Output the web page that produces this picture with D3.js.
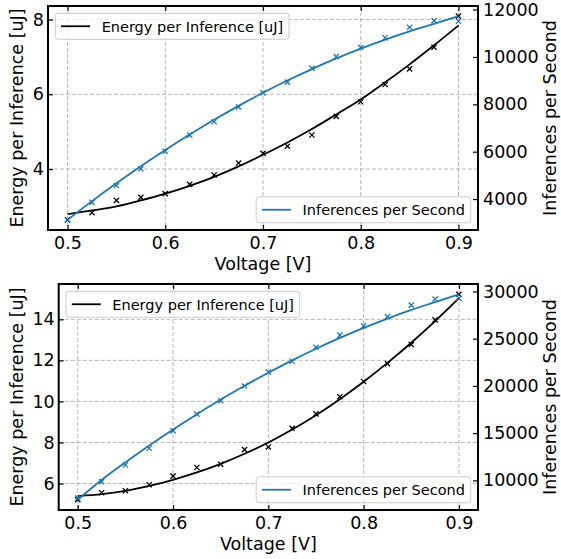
<!DOCTYPE html>
<html>
<head>
<meta charset="utf-8">
<script src="https://cdn.jsdelivr.net/npm/d3@7"></script>
<style>
body { margin: 0; background: #fff; }
text { font-family: "DejaVu Sans", sans-serif; fill: #000; }
</style>
</head>
<body>
<svg id="chart" width="561" height="559"></svg>
<script>
var voltage = [0.5, 0.525, 0.55, 0.575, 0.6, 0.625, 0.65, 0.675, 0.7, 0.725, 0.75, 0.775, 0.8, 0.825, 0.85, 0.875, 0.9];
var voltageTicks = [0.5, 0.6, 0.7, 0.8, 0.9];

// upper panel
var energyTop = [2.64, 2.83, 3.16, 3.24, 3.34, 3.59, 3.84, 4.16, 4.42, 4.61, 4.91, 5.41, 5.80, 6.26, 6.68, 7.26, 8.09];
var energyFitTop = [2.79, 2.89, 3.00, 3.16, 3.34, 3.55, 3.79, 4.07, 4.38, 4.71, 5.07, 5.46, 5.86, 6.32, 6.80, 7.31, 7.84];
var ipsTop = [3124, 3860, 4570, 5277, 6017, 6698, 7264, 7890, 8485, 8936, 9519, 10017, 10400, 10809, 11251, 11532, 11506];
var ipsFitTop = [3124, 3913, 4668, 5389, 6076, 6729, 7348, 7934, 8485, 9003, 9486, 9936, 10352, 10734, 11082, 11396, 11720];
var energyTicksTop = [4, 6, 8];
var ipsTicksTop = [4000, 6000, 8000, 10000, 12000];

// lower panel
var energyBottom = [5.21, 5.55, 5.65, 5.94, 6.36, 6.78, 6.94, 7.65, 7.78, 8.69, 9.39, 10.23, 10.97, 11.84, 12.77, 13.97, 15.22];
var energyFitBottom = [5.39, 5.48, 5.64, 5.88, 6.18, 6.54, 6.96, 7.45, 8.00, 8.63, 9.33, 10.11, 10.96, 11.88, 12.86, 13.91, 15.03];
var ipsBottom = [8120, 9864, 11627, 13401, 15238, 17012, 18424, 19985, 21472, 22608, 24095, 25370, 26357, 27345, 28556, 29193, 29257];
var ipsFitBottom = [7950, 10041, 11902, 13683, 15385, 17008, 18551, 20015, 21400, 22705, 23931, 25078, 26144, 27131, 28040, 28869, 29700];
var energyTicksBottom = [6, 8, 10, 12, 14];
var ipsTicksBottom = [10000, 15000, 20000, 25000, 30000];

var energyLabel = "Energy per Inference [uJ]";
var ipsLabel = "Inferences per Second";
var blue = "#1f77b4";

var svg = d3.select("#chart");
svg.append("rect").attr("width", 561).attr("height", 559).attr("fill", "#fff");

function padded(values) {
    var ext = d3.extent(values);
    var m = (ext[1] - ext[0]) * 0.05;
    return [ext[0] - m, ext[1] + m];
}

function drawMarkers(g, xs, ys, color) {
    var s = 2.6;
    g.selectAll(null).data(voltage).enter().append("path")
        .attr("d", function (d, i) {
            var px = xs(d), py = ys[i];
            return "M" + (px - s) + "," + (py - s) + "L" + (px + s) + "," + (py + s) +
                "M" + (px - s) + "," + (py + s) + "L" + (px + s) + "," + (py - s);
        })
        .attr("stroke", color)
        .attr("stroke-width", 1.3)
        .attr("fill", "none");
}

function drawLegend(g, x0, y0, anchorRight, color, label) {
    var fs = 14.5;
    var leg = g.append("g");
    var box = leg.append("rect");
    var txt = leg.append("text")
        .attr("font-size", fs + "px")
        .attr("dominant-baseline", "central")
        .text(label);
    var tw = txt.node().getComputedTextLength();
    var w = 5.8 + 29 + 11.6 + tw + 5.8;
    var h = 26;
    var left = anchorRight ? x0 - w : x0;
    var top = anchorRight ? y0 - h : y0;
    box.attr("x", left).attr("y", top).attr("width", w).attr("height", h)
        .attr("rx", 3).attr("fill", "#fff").attr("fill-opacity", 0.8)
        .attr("stroke", "#cccccc").attr("stroke-width", 1);
    leg.append("line")
        .attr("x1", left + 5.8).attr("x2", left + 34.8)
        .attr("y1", top + h / 2).attr("y2", top + h / 2)
        .attr("stroke", color).attr("stroke-width", 1.8);
    txt.attr("x", left + 46.4).attr("y", top + h / 2 + 0.5);
}

function drawPanel(b, energy, energyFit, ips, ipsFit, energyTicks, ipsTicks) {
    var g = svg.append("g");
    var x = d3.scaleLinear().domain(padded(voltage)).range([b.left, b.right]);
    var yL = d3.scaleLinear().domain(padded(energy.concat(energyFit))).range([b.bottom, b.top]);
    var yR = d3.scaleLinear().domain(padded(ips.concat(ipsFit))).range([b.bottom, b.top]);

    // grid
    g.selectAll(null).data(voltageTicks).enter().append("line")
        .attr("x1", function (d) { return x(d); }).attr("x2", function (d) { return x(d); })
        .attr("y1", b.top).attr("y2", b.bottom)
        .attr("stroke", "#b0b0b0").attr("stroke-width", 0.9).attr("stroke-dasharray", "4,2");
    g.selectAll(null).data(energyTicks).enter().append("line")
        .attr("y1", function (d) { return yL(d); }).attr("y2", function (d) { return yL(d); })
        .attr("x1", b.left).attr("x2", b.right)
        .attr("stroke", "#b0b0b0").attr("stroke-width", 0.9).attr("stroke-dasharray", "4,2");

    // energy series
    var lineL = d3.line().x(function (d, i) { return x(voltage[i]); })
        .y(function (d) { return yL(d); }).curve(d3.curveMonotoneX);
    g.append("path").datum(energyFit).attr("d", lineL)
        .attr("fill", "none").attr("stroke", "#000").attr("stroke-width", 1.8);
    drawMarkers(g, x, energy.map(function (d) { return yL(d); }), "#000");
    drawLegend(g, b.left + 7.25, b.top + 7.25, false, "#000", energyLabel);

    // inferences series (twin axis)
    var lineR = d3.line().x(function (d, i) { return x(voltage[i]); })
        .y(function (d) { return yR(d); }).curve(d3.curveMonotoneX);
    g.append("path").datum(ipsFit).attr("d", lineR)
        .attr("fill", "none").attr("stroke", blue).attr("stroke-width", 1.8);
    drawMarkers(g, x, ips.map(function (d) { return yR(d); }), blue);
    drawLegend(g, b.right - 7.25, b.bottom - 7.25, true, blue, ipsLabel);

    // axes
    var fs = "17.5px";
    var ax = g.append("g").attr("transform", "translate(0," + b.bottom + ")")
        .call(d3.axisBottom(x).tickValues(voltageTicks).tickSize(-5).tickPadding(7)
            .tickFormat(d3.format(".1f")));
    g.append("g").attr("transform", "translate(0," + b.top + ")")
        .call(d3.axisTop(x).tickValues(voltageTicks).tickSize(-5).tickFormat(""));
    var al = g.append("g").attr("transform", "translate(" + b.left + ",0)")
        .call(d3.axisLeft(yL).tickValues(energyTicks).tickSize(-5).tickPadding(4)
            .tickFormat(d3.format("d")));
    var ar = g.append("g").attr("transform", "translate(" + b.right + ",0)")
        .call(d3.axisRight(yR).tickValues(ipsTicks).tickSize(-5).tickPadding(5)
            .tickFormat(d3.format("d")));
    g.selectAll(".domain").remove();
    g.selectAll(".tick line").attr("stroke", "#000").attr("stroke-width", 1.2);
    g.selectAll(".tick text").attr("font-size", fs).attr("font-family", "DejaVu Sans").attr("fill", "#000");

    // frame
    g.append("rect").attr("x", b.left).attr("y", b.top)
        .attr("width", b.right - b.left).attr("height", b.bottom - b.top)
        .attr("fill", "none").attr("stroke", "#000").attr("stroke-width", 2);

    // axis titles
    g.append("text").attr("x", (b.left + b.right) / 2).attr("y", b.bottom + 40)
        .attr("text-anchor", "middle").attr("font-size", fs).text("Voltage [V]");
    var cy = (b.top + b.bottom) / 2;
    g.append("text").attr("transform", "translate(23," + cy + ") rotate(-90)")
        .attr("text-anchor", "middle").attr("font-size", fs).text(energyLabel);
    g.append("text").attr("transform", "translate(556," + cy + ") rotate(-90)")
        .attr("text-anchor", "middle").attr("font-size", fs).text(ipsLabel);
}

drawPanel({ left: 48, right: 478, top: 6, bottom: 230 },
    energyTop, energyFitTop, ipsTop, ipsFitTop, energyTicksTop, ipsTicksTop);
drawPanel({ left: 58.7, right: 478, top: 284, bottom: 510 },
    energyBottom, energyFitBottom, ipsBottom, ipsFitBottom, energyTicksBottom, ipsTicksBottom);
</script>
</body>
</html>
